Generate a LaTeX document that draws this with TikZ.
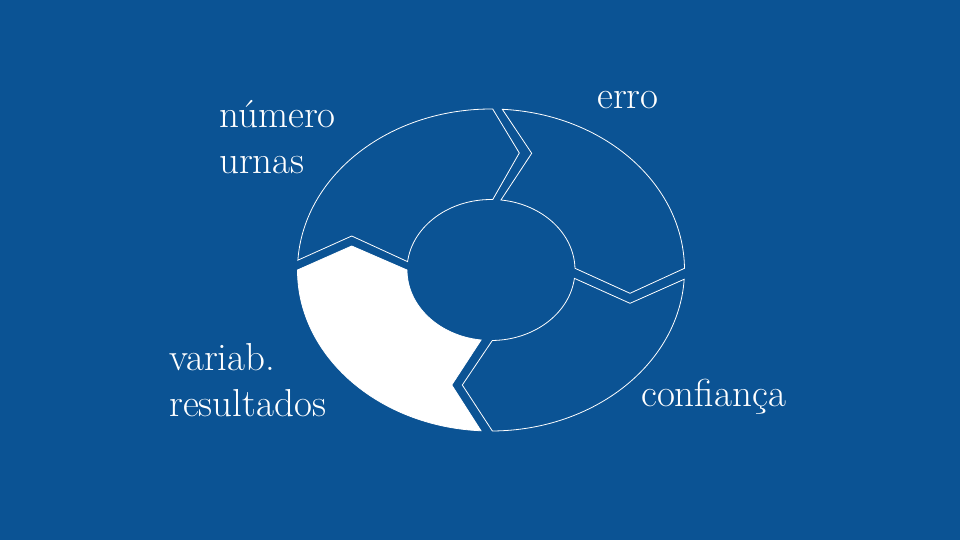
\documentclass[tikz,border=0pt]{standalone}
\usetikzlibrary{calc}
\definecolor{slide_blue}{RGB}{11, 83, 148}
\tikzstyle{seg}=[draw=white,line width=0.8pt,line join=miter]
\tikzstyle{lbl}=[text=white,inner sep=0pt,anchor=base west,align=left,
  font=\fontsize{39}{46}\selectfont]

\begin{document}
\begin{tikzpicture}[x=1pt,y=-1pt]
    \fill[slide_blue] (0,0) rectangle (960,540);
    \useasboundingbox (0,0) rectangle (960,540);
    \coordinate (c) at (491,270);
    % top left
    \draw [style=seg] ($(c)+(183.5:193.5 and 161)$)
        arc[start angle=183.5,end angle=270.5,x radius=193.5,y radius=161]
        -- (519.3,153) -- ($(c)+(271.2:84 and 70.5)$)
        arc[start angle=271.2,end angle=186.8,x radius=84,y radius=70.5]
        -- (351.7,236) -- cycle;
    % top right
    \draw [style=seg] ($(c)+(273.35:193.5 and 161)$)
        arc[start angle=273.35,end angle=359.4,x radius=193.5,y radius=161]
        -- (630,293.3) -- ($(c)+(358.6:84 and 70.5)$)
        arc[start angle=358.6,end angle=276.8,x radius=84,y radius=70.5]
        -- (531.7,153.3) -- cycle;
    % bottom right
    \draw [style=seg] ($(c)+(3.3:193.5 and 161)$)
        arc[start angle=3.3,end angle=89.6,x radius=193.5,y radius=161]
        -- (462.3,385) -- ($(c)+(89.1:84 and 70.5)$)
        arc[start angle=89.1,end angle=6.8,x radius=84,y radius=70.5]
        -- (630,303.3) -- cycle;
    % bottom left, filled
    \filldraw [style=seg,fill=white] ($(c)+(92.96:193.5 and 161)$)
        arc[start angle=92.96,end angle=180,x radius=193.5,y radius=161]
        -- (351.7,246) -- ($(c)+(180:84 and 70.5)$)
        arc[start angle=180,end angle=96.8,x radius=84,y radius=70.5]
        -- (451.7,385) -- cycle;
    % labels (base = last line)
    \node [style=lbl] (numero) at (219,174) {número\\urnas};
    \node [style=lbl] (erro) at (597,109) {erro};
    \node [style=lbl] (variab) at (169,416) {variab.\\resultados};
    \node [style=lbl] (confianca) at (641,406) {confiança};
\end{tikzpicture}
\end{document}
